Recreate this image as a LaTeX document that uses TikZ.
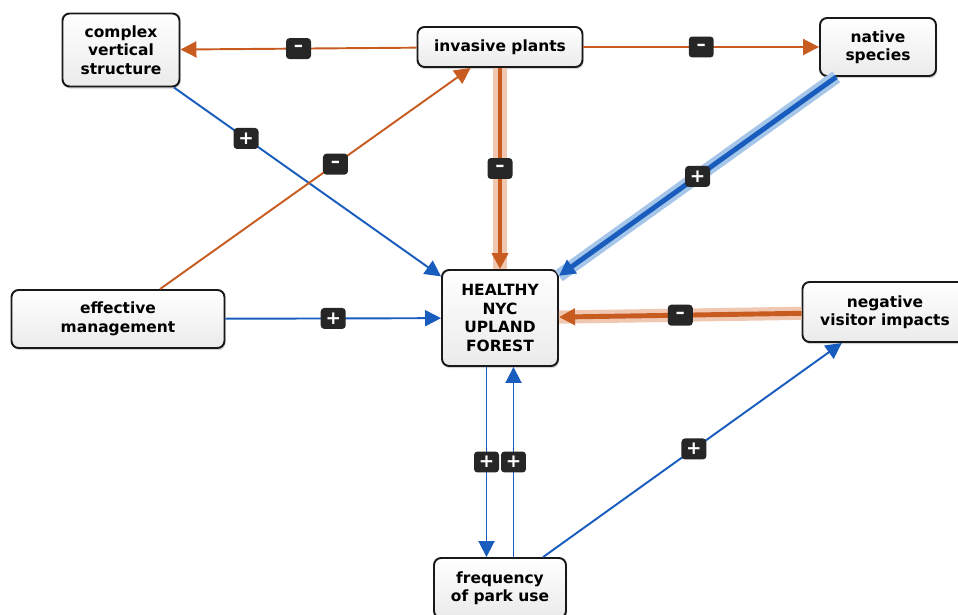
\documentclass[tikz,border=0pt]{standalone}
\usepackage{fontspec}
\setmainfont{DejaVu Sans}
\usetikzlibrary{arrows.meta, shadows}
\definecolor{orng}{RGB}{200,92,32}
\definecolor{orngl}{RGB}{240,200,178}
\definecolor{blu}{RGB}{24,92,190}
\definecolor{blul}{RGB}{165,198,232}
\tikzset{>={Triangle[length=0.32cm, width=0.32cm]}}
\tikzset{
  box/.style={draw=black!90, line width=1.1pt, rounded corners=4pt, top color=white,
    bottom color=black!8, drop shadow={opacity=0.35, shadow xshift=0.6pt, shadow yshift=-1.2pt},
    align=center, font=\fontsize{8.8}{10.5}\selectfont\bfseries, inner sep=2pt},
  sign/.style={fill=black!85, rounded corners=2pt, text=white, font=\fontsize{10.5}{10.5}\selectfont\bfseries,
    minimum width=0.5cm, minimum height=0.42cm, inner sep=0pt},
  poslink/.style={->, blu, line width=1.1pt},
  neglink/.style={->, orng, line width=1.1pt},
  posbig/.style={->, blu, line width=2.8pt, preaction={draw=blul, line width=7.5pt, -}},
  negbig/.style={->, orng, line width=2.8pt, preaction={draw=orngl, line width=7.5pt, -}}
}

\begin{document}
\begin{tikzpicture}[x=0.02cm, y=-0.02cm]
\useasboundingbox (0,0) rectangle (958,615);
% factors
\node[box, minimum width=2.34cm, minimum height=1.46cm] (C) at (121,50) {complex\\vertical\\structure};
\node[box, minimum width=3.3cm, minimum height=0.8cm] (I) at (500,47) {invasive plants};
\node[box, minimum width=2.32cm, minimum height=1.16cm] (N) at (878,47) {native\\species};
\node[box, minimum width=4.26cm, minimum height=1.16cm] (E) at (118,319) {effective\\management};
\node[box, minimum width=2.32cm, minimum height=1.92cm] (H) at (500,318) {HEALTHY\\NYC\\UPLAND\\FOREST};
\node[box, minimum width=3.3cm, minimum height=1.2cm] (V) at (885,312) {negative\\visitor impacts};
\node[box, minimum width=2.64cm, minimum height=1.2cm] (F) at (500,588) {frequency\\of park use};
% links
\draw[neglink] (I) -- (C) node[sign, midway] {--};
\draw[neglink] (I) -- (N) node[sign, midway] {--};
\draw[negbig] (I) -- (H) node[sign, midway] {--};
\draw[posbig] (N) -- (H) node[sign, midway] {+};
\draw[poslink] (C) -- (H) node[sign, pos=0.27] {+};
\draw[neglink] (E) -- (I) node[sign, pos=0.565] {--};
\draw[poslink] (E) -- (H) node[sign, midway] {+};
\draw[negbig] (V) -- (H) node[sign, midway] {--};
\draw[poslink] ([xshift=-0.27cm]H.south) -- ([xshift=-0.27cm]F.north) node[sign, midway] {+};
\draw[poslink] ([xshift=0.27cm]F.north) -- ([xshift=0.27cm]H.south) node[sign, midway] {+};
\draw[poslink] (F) -- (V) node[sign, pos=0.505] {+};
\end{tikzpicture}
\end{document}
